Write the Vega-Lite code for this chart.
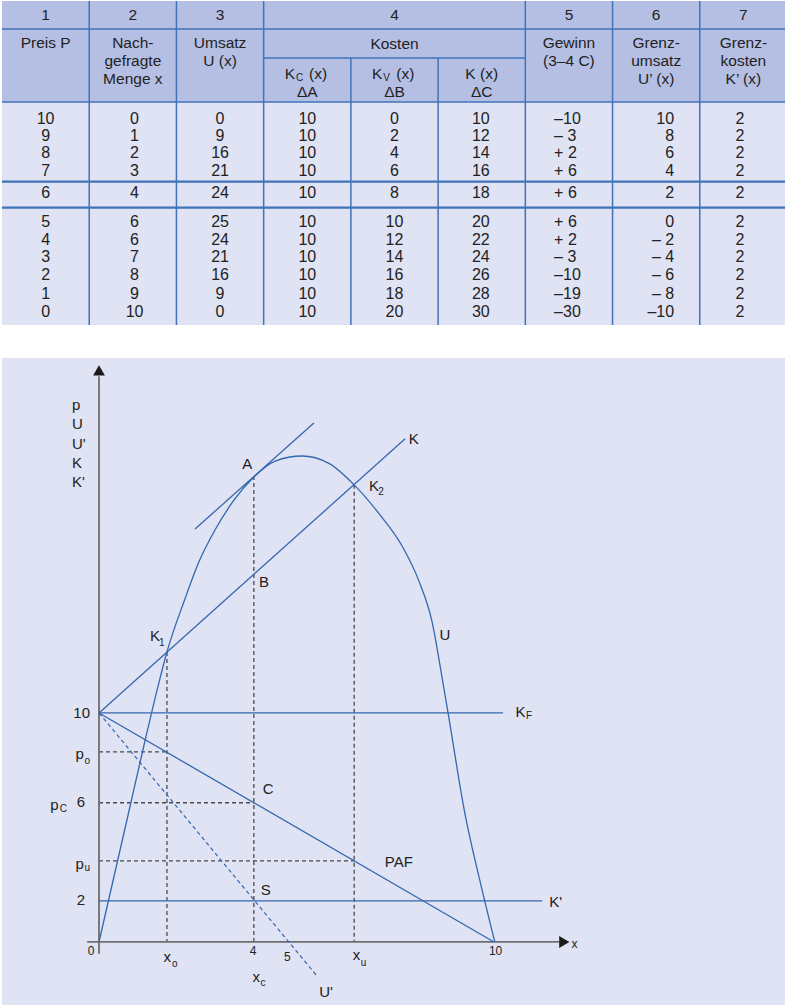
{
"$schema": "https://vega.github.io/schema/vega-lite/v6.json",
"background": "white",
"padding": 0,
"spacing": 32,
"config": {"view": {"stroke": null, "fill": "#dfe3f3"}, "text": {"font": "Liberation Sans", "color": "#222222"}, "concat": {"spacing": 32}},
"vconcat": [
{
"width": 785, "height": 324,
"encoding": {
  "x": {"field": "x", "type": "quantitative", "scale": {"domain": [0, 9], "nice": false, "zero": false}, "axis": null},
  "y": {"field": "y", "type": "quantitative", "scale": {"domain": [0, 18], "reverse": true, "nice": false, "zero": false}, "axis": null}
},
"layer": [
  {"data": {"values": [{"x": 0, "x2": 9, "y": 0, "y2": 5.61}]},
   "mark": {"type": "rect", "fill": "#b5bfe4"},
   "encoding": {"x2": {"field": "x2"}, "y2": {"field": "y2"}}},
  {"data": {"values": [
     {"x": 1, "y": 0, "x2": 1, "y2": 18}, {"x": 2, "y": 0, "x2": 2, "y2": 18}, {"x": 3, "y": 0, "x2": 3, "y2": 18},
     {"x": 4, "y": 3.17, "x2": 4, "y2": 18}, {"x": 5, "y": 3.17, "x2": 5, "y2": 18},
     {"x": 6, "y": 0, "x2": 6, "y2": 18}, {"x": 7, "y": 0, "x2": 7, "y2": 18}, {"x": 8, "y": 0, "x2": 8, "y2": 18},
     {"x": 0, "y": 1.56, "x2": 9, "y2": 1.56}, {"x": 3, "y": 3.17, "x2": 6, "y2": 3.17}, {"x": 0, "y": 5.61, "x2": 9, "y2": 5.61}
   ]},
   "mark": {"type": "rule", "color": "#4173b9", "strokeWidth": 1.5},
   "encoding": {"x2": {"field": "x2"}, "y2": {"field": "y2"}}},
  {"data": {"values": [
     {"x": 0, "y": 10.04, "x2": 9, "y2": 10.04}, {"x": 0, "y": 11.48, "x2": 9, "y2": 11.48}
   ]},
   "mark": {"type": "rule", "color": "#4173b9", "strokeWidth": 2.2},
   "encoding": {"x2": {"field": "x2"}, "y2": {"field": "y2"}}},
  {"data": {"values": [
     {"x": 0.5, "y": 0.8, "t": "1"}, {"x": 1.5, "y": 0.8, "t": "2"}, {"x": 2.5, "y": 0.8, "t": "3"}, {"x": 4.5, "y": 0.8, "t": "4"},
     {"x": 6.5, "y": 0.8, "t": "5"}, {"x": 7.5, "y": 0.8, "t": "6"}, {"x": 8.5, "y": 0.8, "t": "7"},
     {"x": 0.5, "y": 2.36, "t": "Preis P"},
     {"x": 1.5, "y": 2.36, "t": "Nach-"}, {"x": 1.5, "y": 3.36, "t": "gefragte"}, {"x": 1.5, "y": 4.36, "t": "Menge x"},
     {"x": 2.5, "y": 2.36, "t": "Umsatz"}, {"x": 2.5, "y": 3.36, "t": "U (x)"},
     {"x": 4.5, "y": 2.39, "t": "Kosten"},
     {"x": 5.5, "y": 4.08, "t": "K (x)"},
     {"x": 3.5, "y": 5.03, "t": "ΔA"}, {"x": 4.5, "y": 5.03, "t": "ΔB"}, {"x": 5.5, "y": 5.03, "t": "ΔC"},
     {"x": 6.5, "y": 2.36, "t": "Gewinn"}, {"x": 6.5, "y": 3.36, "t": "(3–4 C)"},
     {"x": 7.5, "y": 2.36, "t": "Grenz-"}, {"x": 7.5, "y": 3.36, "t": "umsatz"}, {"x": 7.5, "y": 4.36, "t": "U’ (x)"},
     {"x": 8.5, "y": 2.36, "t": "Grenz-"}, {"x": 8.5, "y": 3.36, "t": "kosten"}, {"x": 8.5, "y": 4.36, "t": "K’ (x)"}
   ]},
   "mark": {"type": "text", "fontSize": 15.5, "align": "center", "baseline": "middle"},
   "encoding": {"text": {"field": "t"}}},
  {"data": {"values": [{"x": 3.36, "y": 4.08, "t": "K"}, {"x": 4.36, "y": 4.08, "t": "K"}]},
   "mark": {"type": "text", "fontSize": 15.5, "align": "right", "baseline": "middle"},
   "encoding": {"text": {"field": "t"}}},
  {"data": {"values": [{"x": 3.52, "y": 4.08, "t": "(x)"}, {"x": 4.52, "y": 4.08, "t": "(x)"}]},
   "mark": {"type": "text", "fontSize": 15.5, "align": "left", "baseline": "middle"},
   "encoding": {"text": {"field": "t"}}},
  {"data": {"values": [{"x": 3.372, "y": 4.26, "t": "C"}, {"x": 4.372, "y": 4.26, "t": "V"}]},
   "mark": {"type": "text", "fontSize": 10, "align": "left", "baseline": "middle"},
   "encoding": {"text": {"field": "t"}}},
  {"data": {"name": "tab"},
   "transform": [
     {"fold": ["P", "M", "U", "KC", "KV", "K", "G", "GU", "GK"], "as": ["key", "t"]},
     {"lookup": "key", "from": {"data": {"name": "cols"}, "key": "key", "fields": ["x"]}},
     {"filter": "datum.key != 'G' && datum.key != 'GU'"}
   ],
   "mark": {"type": "text", "fontSize": 16, "align": "center", "baseline": "middle"},
   "encoding": {"text": {"field": "t"}}},
  {"data": {"name": "tab"},
   "transform": [
     {"fold": ["P", "M", "U", "KC", "KV", "K", "G", "GU", "GK"], "as": ["key", "t"]},
     {"lookup": "key", "from": {"data": {"name": "cols"}, "key": "key", "fields": ["x"]}},
     {"filter": "datum.key == 'G'"}
   ],
   "mark": {"type": "text", "fontSize": 16, "align": "left", "baseline": "middle"},
   "encoding": {"text": {"field": "t"}}},
  {"data": {"name": "tab"},
   "transform": [
     {"fold": ["P", "M", "U", "KC", "KV", "K", "G", "GU", "GK"], "as": ["key", "t"]},
     {"lookup": "key", "from": {"data": {"name": "cols"}, "key": "key", "fields": ["x"]}},
     {"filter": "datum.key == 'GU'"}
   ],
   "mark": {"type": "text", "fontSize": 16, "align": "right", "baseline": "middle"},
   "encoding": {"text": {"field": "t"}}}
]
},
{
"width": 785, "height": 649,
"encoding": {
  "x": {"field": "x", "type": "quantitative", "scale": {"domain": [-2.456, 17.418], "nice": false, "zero": false}, "axis": null},
  "y": {"field": "y", "type": "quantitative", "scale": {"domain": [-2.84, 25.5], "nice": false, "zero": false}, "axis": null}
},
"layer": [
  {"data": {"values": [
     {"x": 1.72, "y": 12.66, "x2": 1.72, "y2": 0}, {"x": 3.92, "y": 20.35, "x2": 3.92, "y2": 0}, {"x": 6.46, "y": 19.96, "x2": 6.46, "y2": 0},
     {"x": 0, "y": 8.3, "x2": 1.72, "y2": 8.3}, {"x": 0, "y": 6.08, "x2": 3.92, "y2": 6.08}, {"x": 0, "y": 3.54, "x2": 6.46, "y2": 3.54}
   ]},
   "mark": {"type": "rule", "color": "#4a4a4a", "strokeWidth": 1.3, "strokeDash": [4, 3]},
   "encoding": {"x2": {"field": "x2"}, "y2": {"field": "y2"}}},
  {"data": {"values": [{"x": -0.3, "y": 0, "x2": 11.65, "y2": 0}, {"x": 0, "y": -0.52, "x2": 0, "y2": 24.7}]},
   "mark": {"type": "rule", "color": "#6e6e6e", "strokeWidth": 1.8},
   "encoding": {"x2": {"field": "x2"}, "y2": {"field": "y2"}}},
  {"data": {"values": [{"x": 0, "y": 24.96}]},
   "mark": {"type": "point", "shape": "triangle-up", "filled": true, "size": 140, "color": "#1a1a1a", "opacity": 1}},
  {"data": {"values": [{"x": 11.78, "y": 0}]},
   "mark": {"type": "point", "shape": "triangle-right", "filled": true, "size": 140, "color": "#1a1a1a", "opacity": 1}},
  {"data": {"values": [
     {"x": 0, "y": 10, "x2": 7.75, "y2": 21.97},
     {"x": 2.43, "y": 18.03, "x2": 5.44, "y2": 22.66},
     {"x": 0, "y": 10, "x2": 10.23, "y2": 10},
     {"x": 0, "y": 1.79, "x2": 11.22, "y2": 1.79},
     {"x": 0, "y": 10, "x2": 10, "y2": 0}
   ]},
   "mark": {"type": "rule", "color": "#3567b0", "strokeWidth": 1.3},
   "encoding": {"x2": {"field": "x2"}, "y2": {"field": "y2"}}},
  {"data": {"values": [{"x": 0, "y": 10, "x2": 5.54, "y2": -1.53}]},
   "mark": {"type": "rule", "color": "#3567b0", "strokeWidth": 1.2, "strokeDash": [4, 3]},
   "encoding": {"x2": {"field": "x2"}, "y2": {"field": "y2"}}},
  {"data": {"values": [
     {"x": 0, "y": 0}, {"x": 0.73, "y": 5.5}, {"x": 1.14, "y": 8.6}, {"x": 1.52, "y": 11.35}, {"x": 1.72, "y": 12.66},
     {"x": 2.18, "y": 15.0}, {"x": 2.53, "y": 16.6}, {"x": 2.94, "y": 18.0}, {"x": 3.42, "y": 19.3}, {"x": 3.92, "y": 20.3},
     {"x": 4.46, "y": 21.0}, {"x": 5.14, "y": 21.22}, {"x": 5.82, "y": 20.9}, {"x": 6.46, "y": 19.96},
     {"x": 7.09, "y": 18.7}, {"x": 7.67, "y": 17.3}, {"x": 8.09, "y": 15.8}, {"x": 8.43, "y": 14.0},
     {"x": 8.68, "y": 11.6}, {"x": 8.84, "y": 9.97}, {"x": 9.27, "y": 5.55}, {"x": 9.65, "y": 2.62}, {"x": 10.02, "y": 0}
   ]},
   "mark": {"type": "line", "interpolate": "monotone", "color": "#3567b0", "strokeWidth": 1.3},
   "encoding": {}},
  {"data": {"values": [
     {"x": 3.75, "y": 20.87, "t": "A"}, {"x": 4.18, "y": 15.72, "t": "B"}, {"x": 1.42, "y": 13.36, "t": "K"},
     {"x": 6.96, "y": 19.91, "t": "K"}, {"x": 7.97, "y": 21.97, "t": "K"}, {"x": 8.76, "y": 13.41, "t": "U"},
     {"x": 4.28, "y": 6.66, "t": "C"}, {"x": 4.22, "y": 2.29, "t": "S"}, {"x": 7.59, "y": 3.47, "t": "PAF"},
     {"x": 10.67, "y": 10.04, "t": "K"}, {"x": 11.56, "y": 1.75, "t": "K'"}, {"x": 5.75, "y": -2.18, "t": "U'"},
     {"x": -0.49, "y": 8.22, "t": "p"}, {"x": -1.13, "y": 5.99, "t": "p"}, {"x": -0.49, "y": 3.42, "t": "p"},
     {"x": 1.73, "y": -0.64, "t": "x"}, {"x": 6.52, "y": -0.57, "t": "x"}, {"x": 3.98, "y": -1.53, "t": "x"}
   ]},
   "mark": {"type": "text", "fontSize": 15, "align": "center", "baseline": "middle"},
   "encoding": {"text": {"field": "t"}}},
  {"data": {"values": [{"x": -0.228, "y": 10.0, "t": "10"}, {"x": -0.35, "y": 6.11, "t": "6"}, {"x": -0.35, "y": 1.83, "t": "2"}]},
   "mark": {"type": "text", "fontSize": 15, "align": "right", "baseline": "middle"},
   "encoding": {"text": {"field": "t"}}},
  {"data": {"values": [
     {"x": -0.2, "y": -0.39, "t": "0"}, {"x": 3.9, "y": -0.39, "t": "4"}, {"x": 4.77, "y": -0.65, "t": "5"},
     {"x": 10.04, "y": -0.39, "t": "10"}, {"x": 12.04, "y": -0.09, "t": "x"}
   ]},
   "mark": {"type": "text", "fontSize": 12, "align": "center", "baseline": "middle"},
   "encoding": {"text": {"field": "t"}}},
  {"data": {"values": [
     {"x": 1.59, "y": 13.06, "t": "1"}, {"x": 7.14, "y": 19.65, "t": "2"}, {"x": 10.89, "y": 9.87, "t": "F"},
     {"x": -0.3, "y": 7.9, "t": "o"}, {"x": -0.9, "y": 5.81, "t": "C"}, {"x": -0.3, "y": 3.23, "t": "u"},
     {"x": 1.92, "y": -0.96, "t": "o"}, {"x": 6.7, "y": -0.92, "t": "u"}, {"x": 4.15, "y": -1.79, "t": "c"}
   ]},
   "mark": {"type": "text", "fontSize": 10, "align": "center", "baseline": "middle"},
   "encoding": {"text": {"field": "t"}}},
  {"data": {"values": [
     {"x": -0.684, "y": 23.23, "t": "p"}, {"x": -0.684, "y": 22.4, "t": "U"}, {"x": -0.684, "y": 21.53, "t": "U'"},
     {"x": -0.684, "y": 20.7, "t": "K"}, {"x": -0.684, "y": 19.87, "t": "K'"}
   ]},
   "mark": {"type": "text", "fontSize": 15, "align": "left", "baseline": "alphabetic"},
   "encoding": {"text": {"field": "t"}}},
  {"data": {"name": "leg"},
   "mark": {"type": "text", "fontSize": 13, "align": "left", "baseline": "middle", "color": "#2a2a2a"},
   "encoding": {"x": {"datum": 11.01}, "text": {"field": "sym"}}},
  {"data": {"name": "leg"},
   "transform": [{"filter": "datum.sub != ''"}],
   "mark": {"type": "text", "fontSize": 9, "align": "left", "baseline": "middle", "dy": 5, "color": "#2a2a2a"},
   "encoding": {"x": {"datum": 11.24}, "text": {"field": "sub"}}},
  {"data": {"name": "leg"},
   "transform": [{"filter": "datum.sym != ''"}],
   "mark": {"type": "text", "fontSize": 13, "align": "center", "baseline": "middle", "color": "#2a2a2a"},
   "encoding": {"x": {"datum": 11.72}, "text": {"value": "="}}},
  {"data": {"name": "leg"},
   "mark": {"type": "text", "fontSize": 13, "align": "left", "baseline": "middle", "color": "#2a2a2a"},
   "encoding": {"x": {"datum": 12.05}, "text": {"field": "desc"}}}
]
}
],
"datasets": {
"cols": [
 {"key": "P", "x": 0.5}, {"key": "M", "x": 1.52}, {"key": "U", "x": 2.5}, {"key": "KC", "x": 3.5},
 {"key": "KV", "x": 4.5}, {"key": "K", "x": 5.49}, {"key": "G", "x": 6.33}, {"key": "GU", "x": 7.706}, {"key": "GK", "x": 8.46}
],
"tab": [
 {"y": 6.53, "P": "10", "M": "0", "U": "0", "KC": "10", "KV": "0", "K": "10", "G": "–10", "GU": "10", "GK": "2"},
 {"y": 7.5, "P": "9", "M": "1", "U": "9", "KC": "10", "KV": "2", "K": "12", "G": "– 3", "GU": "8", "GK": "2"},
 {"y": 8.44, "P": "8", "M": "2", "U": "16", "KC": "10", "KV": "4", "K": "14", "G": "+ 2", "GU": "6", "GK": "2"},
 {"y": 9.44, "P": "7", "M": "3", "U": "21", "KC": "10", "KV": "6", "K": "16", "G": "+ 6", "GU": "4", "GK": "2"},
 {"y": 10.69, "P": "6", "M": "4", "U": "24", "KC": "10", "KV": "8", "K": "18", "G": "+ 6", "GU": "2", "GK": "2"},
 {"y": 12.28, "P": "5", "M": "6", "U": "25", "KC": "10", "KV": "10", "K": "20", "G": "+ 6", "GU": "0", "GK": "2"},
 {"y": 13.26, "P": "4", "M": "6", "U": "24", "KC": "10", "KV": "12", "K": "22", "G": "+ 2", "GU": "– 2", "GK": "2"},
 {"y": 14.22, "P": "3", "M": "7", "U": "21", "KC": "10", "KV": "14", "K": "24", "G": "– 3", "GU": "– 4", "GK": "2"},
 {"y": 15.22, "P": "2", "M": "8", "U": "16", "KC": "10", "KV": "16", "K": "26", "G": "–10", "GU": "– 6", "GK": "2"},
 {"y": 16.25, "P": "1", "M": "9", "U": "9", "KC": "10", "KV": "18", "K": "28", "G": "–19", "GU": "– 8", "GK": "2"},
 {"y": 17.28, "P": "0", "M": "10", "U": "0", "KC": "10", "KV": "20", "K": "30", "G": "–30", "GU": "–10", "GK": "2"}
],
"leg": [
 {"y": 24.8, "sym": "PAF", "sub": "", "desc": "Preis-Absatz-Funktion"},
 {"y": 24.1, "sym": "K", "sub": "", "desc": "Gesamtkostenkurve"},
 {"y": 23.41, "sym": "K'", "sub": "", "desc": "Grenzkostenkurve"},
 {"y": 22.71, "sym": "U", "sub": "", "desc": "Umsatzkurve"},
 {"y": 22.01, "sym": "U'", "sub": "", "desc": "Grenzumsatzkurve"},
 {"y": 21.31, "sym": "K", "sub": "F", "desc": "gesamte fixe Kosten"},
 {"y": 20.61, "sym": "K", "sub": "V", "desc": "gesamte variable Kosten"},
 {"y": 19.96, "sym": "S", "sub": "", "desc": "Schnittpunkt der Grenzerlös-"},
 {"y": 19.26, "sym": "", "sub": "", "desc": "und Grenzkostenkurve"},
 {"y": 18.6, "sym": "C", "sub": "", "desc": "Cournotscher Punkt"},
 {"y": 17.95, "sym": "P", "sub": "C", "desc": "gewinnmaximaler Preis"},
 {"y": 17.25, "sym": "X", "sub": "", "desc": "Menge"},
 {"y": 16.59, "sym": "X", "sub": "C", "desc": "gewinnmaximale Menge"},
 {"y": 15.85, "sym": "K", "sub": "1", "desc": "unterer Kostendeckungspunkt"},
 {"y": 15.2, "sym": "K", "sub": "2", "desc": "oberer Kostendeckungspunkt"},
 {"y": 14.54, "sym": "AB", "sub": "", "desc": "größter Gewinn"},
 {"y": 13.84, "sym": "P", "sub": "O", "desc": "oberer Grenzpreis"},
 {"y": 13.19, "sym": "P", "sub": "U", "desc": "unterer Grenzpreis"}
]
}
}
